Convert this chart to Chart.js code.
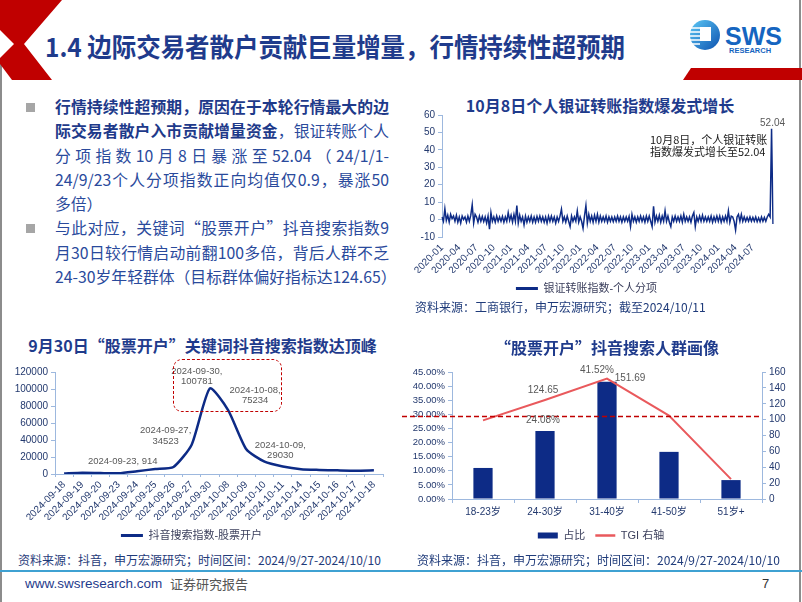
<!DOCTYPE html>
<html lang="zh-CN">
<head>
<meta charset="UTF-8">
<title>1.4 边际交易者散户贡献巨量增量，行情持续性超预期</title>
<script src="https://cdn.jsdelivr.net/npm/chart.js@4.4.1/dist/chart.umd.min.js"></script>
<style>
  html, body { margin: 0; padding: 0; background: #fff; }
  body { width: 802px; height: 602px; position: relative; overflow: hidden; font-family: "Noto Sans CJK SC", sans-serif; }
  .abs { position: absolute; }
  .title { color: #1F3B8C; font-weight: 700; font-size: 16px; white-space: nowrap; line-height: 20px; }
  .source { color: #1F3B7A; font-size: 12px; white-space: nowrap; line-height: 16px; }
  .para { left: 55px; top: 95px; width: 334px; font-size: 15.8px; line-height: 24.3px; color: #2A4A9C; }
  .para div { text-align: justify; text-align-last: justify; }
  .para div.last { text-align: left; text-align-last: left; }
  .para b { color: #1E3A8A; }
  .bullet { width: 9px; height: 9px; background: #A6A6A6; }
</style>
</head>
<body>
<!-- slide frame -->
<div class="abs" style="left:0;top:0;width:2px;height:602px;background:#8c8c8c"></div>
<div class="abs" style="left:799px;top:0;width:2px;height:602px;background:#8c8c8c"></div>

<!-- header -->
<svg class="abs" style="left:0;top:0" width="802" height="82">
  <defs>
    <linearGradient id="logoGrad" x1="0" y1="0" x2="1" y2="1">
      <stop offset="0" stop-color="#5cc8f5"/>
      <stop offset="1" stop-color="#0d52b0"/>
    </linearGradient>
  </defs>
  <polygon points="0,0 62,0 24,44 52,80 12,80 0,64" fill="#C00000"/>
  <polygon points="0,30 14,44 0,58" fill="#fff"/>
  <polygon points="691,68 802,68 802,80 683,80" fill="#C00000"/>
  <circle cx="705" cy="35" r="15" fill="url(#logoGrad)"/>
  <g stroke="#fff" stroke-width="1.5">
    <line x1="690" y1="28" x2="700" y2="28"/>
    <line x1="690" y1="32" x2="700" y2="32"/>
    <line x1="690" y1="36" x2="700" y2="36"/>
    <line x1="690" y1="40" x2="700" y2="40"/>
    <line x1="691" y1="44" x2="700" y2="44"/>
  </g>
  <rect x="700" y="27" width="11" height="14" fill="#fff"/>
  <text x="725" y="45" font-family="Liberation Sans, Arial" font-weight="bold" font-size="25" fill="#1565C0">SWS</text>
  <text x="729" y="53" font-family="Liberation Sans, Arial" font-weight="bold" font-size="7.5" fill="#1565C0">RESEARCH</text>
</svg>
<div class="abs" style="left:45px;top:29px;font-size:26px;line-height:34px;font-weight:700;color:#1F3B8C;white-space:nowrap;transform:scaleX(0.94);transform-origin:left center">1.4 边际交易者散户贡献巨量增量，行情持续性超预期</div>

<!-- text block -->
<div class="abs bullet" style="left:26px;top:103px"></div>
<div class="abs bullet" style="left:26px;top:224px"></div>
<div class="abs para">
  <div><b>行情持续性超预期，原因在于本轮行情最大的边</b></div>
  <div><b>际交易者散户入市贡献增量资金</b>，银证转账个人</div>
  <div>分项指数10月8日暴涨至52.04（24/1/1-</div>
  <div>24/9/23个人分项指数正向均值仅0.9，暴涨50</div>
  <div class="last">多倍）</div>
  <div>与此对应，关键词“股票开户”抖音搜索指数9</div>
  <div>月30日较行情启动前翻100多倍，背后人群不乏</div>
  <div style="width:341px">24-30岁年轻群体（目标群体偏好指标达124.65）</div>
</div>

<!-- top right chart -->
<div class="abs title" style="left:400px;width:400px;top:95px;text-align:center">10月8日个人银证转账指数爆发式增长</div>
<div class="abs" style="left:400px;top:100px;width:400px;height:204px"><canvas id="transferChart"></canvas></div>
<div class="abs" style="left:650px;top:133px;font-size:11px;line-height:12px;color:#1a1a1a;white-space:nowrap">10月8日，个人银证转账<br>指数爆发式增长至52.04</div>
<div class="abs source" style="left:415px;top:299px">资料来源：工商银行，申万宏源研究；截至2024/10/11</div>

<!-- bottom left chart -->
<div class="abs title" style="left:0;width:405px;top:335px;text-align:center">9月30日“股票开户”关键词抖音搜索指数达顶峰</div>
<div class="abs" style="left:0;top:350px;width:400px;height:201px"><canvas id="douyinChart"></canvas></div>
<div class="abs" style="left:173px;top:359px;width:109px;height:53px;box-sizing:border-box;border:1.8px dashed #C00000;border-radius:9px"></div>
<div class="abs source" style="left:18px;top:552px">资料来源：抖音，申万宏源研究；时间区间：2024/9/27-2024/10/10</div>

<!-- bottom right chart -->
<div class="abs title" style="left:400px;width:414px;top:337px;text-align:center">“股票开户”抖音搜索人群画像</div>
<div class="abs" style="left:400px;top:350px;width:402px;height:201px"><canvas id="portraitChart"></canvas></div>
<div class="abs source" style="left:417px;top:552px">资料来源：抖音，申万宏源研究；时间区间：2024/9/27-2024/10/10</div>

<!-- footer -->
<div class="abs" style="left:0;top:570px;width:802px;height:2px;background:#3FA1D2"></div>
<div class="abs" style="left:25px;top:576px;font-family:'Liberation Sans',Arial;font-size:13.5px;line-height:16px;color:#1F3B8C">www.swsresearch.com</div>
<div class="abs" style="left:170px;top:576px;font-size:13px;line-height:16px;color:#555">证券研究报告</div>
<div class="abs" style="left:762px;top:576px;font-family:'Liberation Sans',Arial;font-size:13px;line-height:16px;color:#333">7</div>

<script>
// ---- data: 银证转账指数-个人分项 (weekly readings per month) ----
const transferMonths = [
  '2020-01','2020-02','2020-03','2020-04','2020-05','2020-06','2020-07','2020-08','2020-09','2020-10','2020-11','2020-12',
  '2021-01','2021-02','2021-03','2021-04','2021-05','2021-06','2021-07','2021-08','2021-09','2021-10','2021-11','2021-12',
  '2022-01','2022-02','2022-03','2022-04','2022-05','2022-06','2022-07','2022-08','2022-09','2022-10','2022-11','2022-12',
  '2023-01','2023-02','2023-03','2023-04','2023-05','2023-06','2023-07','2023-08','2023-09','2023-10','2023-11','2023-12',
  '2024-01','2024-02','2024-03','2024-04','2024-05','2024-06','2024-07','2024-08','2024-09','2024-10'
];
const transferValues = [
  [1.5, -1, 6.2, -0.5], [2.5, -1.5, 3, 0.5], [2, -1, 2.5, -1.5], [1.5, -2, 2, 0],
  [1.5, -1.5, 2, -1], [2.5, 8.5, -2, 3], [1.5, -1.5, 2, -1], [1.8, -1.2, 1.5, -2],
  [2, -5.5, 4, -1], [1.5, -1.5, 2, -1], [1.5, -1, 1.8, -1.5], [1.5, -1, 4, -0.5],
  [2.5, -1.5, 3, -1], [8, -2, 2.5, -1], [1.5, -3, 2, -1.5], [1.5, -1, 2, -1.5],
  [1.5, -1.5, 1.8, -1], [2, -1, 1.5, -1.5], [1.5, -2, 2, -1], [2, -1, 1.5, -2],
  [1.5, -1, 2, 6], [-1, 1.5, -1.5, 2], [-1, -4, 2, -1], [1.5, -1, 5, -1.5],
  [1.5, -1, -5, 2], [8, -2, 3, -1], [2, -1.5, 2.5, -1], [3, -1.5, 2, -1],
  [1.5, -1, 2, -1.5], [1.5, -1, 1.5, -1.2], [1.5, -1, 2, -1], [1.5, -1.5, 1.5, -1],
  [1.5, -1, 1.8, -4], [3, -1, 1.5, -1.5], [1.5, -1, 2, -1], [1.5, -1.5, 2, -1],
  [2, -1, -4, 7.6], [-1.5, 2, -1, 2.5], [-1.5, 2, -1, 5], [-1, 2, -1.5, -4],
  [1.5, -1, 2, -1], [1.5, -1, 2, -1.5], [3, -1, 1.5, -1], [1.5, -1.5, 2, 4],
  [-4, 1.5, -1, 2], [-1, 2.5, -1, 1.5], [-1, 1.5, -1, 2], [-1.5, 1.5, -1, 2],
  [-1, 2, -1.5, 1.5], [-1, 2, -1, 5], [-1.5, 2, 1.5, -1], [-6, 1.5, 3, -1],
  [3, -1, 1.5, -1], [1.2, -1, 1.5, -1], [1.2, -1, 1.5, -1.2], [1, -1.2, 1.5, -1],
  [1.2, -1, 1.5, 3], [1.5, 52.04, -2.5]
];
const transferTicks = [
  '2020-01','2020-04','2020-07','2020-10','2021-01','2021-04','2021-07','2021-10',
  '2022-01','2022-04','2022-07','2022-10','2023-01','2023-04','2023-07','2023-10',
  '2024-01','2024-04','2024-07'
];

// ---- data: 抖音搜索指数-股票开户 ----
const douyinDates = [
  '2024-09-18','2024-09-19','2024-09-20','2024-09-23','2024-09-24','2024-09-25','2024-09-26','2024-09-27','2024-09-30',
  '2024-10-08','2024-10-09','2024-10-10','2024-10-11','2024-10-14','2024-10-15','2024-10-16','2024-10-17','2024-10-18'
];
const douyinValues = [600, 1500, 1100, 914, 3300, 5800, 8200, 34523, 100781, 75234, 29030, 14500, 8800, 5600, 4800, 4300, 3900, 4300];

// ---- data: 人群画像 ----
const ageGroups = ['18-23岁', '24-30岁', '31-40岁', '41-50岁', '51岁+'];
const shareValues = [11.0, 24.08, 41.52, 16.7, 6.7];
const tgiValues = [99, 124.65, 151.69, 105, 25];
const tgiReference = 104;

const NAVY = '#0D2B86';
const RED = '#E9595C';
const AXIS = '#9DB8DE';
const TICK = '#23396E';
const LEGEND_TEXT = '#3B3F5C';

Chart.defaults.font.family = '"Liberation Sans", Arial, "Noto Sans CJK SC", sans-serif';
Chart.defaults.color = TICK;
Chart.defaults.animation = false;

// draws value labels next to chosen points
function labelPlugin(items, fontSize, lineHeight) {
  return {
    id: 'valueLabels',
    afterDatasetsDraw(chart) {
      const ctx = chart.ctx;
      ctx.save();
      ctx.font = fontSize + 'px "Liberation Sans", Arial';
      ctx.fillStyle = '#595959';
      ctx.textAlign = 'center';
      ctx.textBaseline = 'middle';
      items.forEach(it => {
        const el = chart.getDatasetMeta(it.dataset).data[it.index];
        it.text.forEach((t, k) => ctx.fillText(t, el.x + it.dx, el.y + it.dy + k * lineHeight));
      });
      ctx.restore();
    }
  };
}

// legend entries in dataset order, with a style per dataset
function legendStyles(styles) {
  return chart => Chart.defaults.plugins.legend.labels.generateLabels(chart)
    .sort((a, b) => a.datasetIndex - b.datasetIndex)
    .map(it => Object.assign(it, styles[it.datasetIndex]));
}

const plainNumber = v => String(v);

// ---------- chart 1 ----------
const transferLabels = [];
const transferData = [];
transferValues.forEach((weeks, m) => weeks.forEach(v => {
  transferLabels.push(transferMonths[m]);
  transferData.push(v);
}));
const peakIndex = transferData.indexOf(Math.max(...transferData));

new Chart(document.getElementById('transferChart'), {
  type: 'line',
  data: {
    labels: transferLabels,
    datasets: [{
      label: '银证转账指数-个人分项',
      data: transferData,
      borderColor: NAVY,
      backgroundColor: NAVY,
      borderWidth: 1.5,
      pointRadius: 0,
      tension: 0
    }]
  },
  options: {
    responsive: true,
    maintainAspectRatio: false,
    layout: { padding: { top: 15, right: 27, left: 0, bottom: 0 } },
    scales: {
      x: {
        grid: { display: false, drawTicks: false },
        border: { display: false },
        ticks: {
          autoSkip: false, maxRotation: 45, minRotation: 45, padding: 5,
          font: { size: 10 }, color: TICK,
          callback(value, index) {
            const lab = transferLabels[index];
            const first = index === 0 || transferLabels[index - 1] !== lab;
            return first && transferTicks.includes(lab) ? lab : null;
          }
        },
        afterFit(s) { s.height = 36; }
      },
      y: {
        min: -10, max: 60,
        ticks: { stepSize: 10, font: { size: 10 }, color: TICK, padding: 3, callback: plainNumber },
        grid: { drawOnChartArea: false, tickLength: 4, color: AXIS },
        border: { color: AXIS },
        afterFit(s) { s.width = 42; }
      }
    },
    plugins: {
      tooltip: { enabled: false },
      legend: {
        position: 'bottom',
        labels: {
          usePointStyle: true, pointStyleWidth: 22, padding: 10,
          font: { size: 11 }, color: LEGEND_TEXT,
          generateLabels: legendStyles([{ pointStyle: 'line', lineWidth: 3, strokeStyle: NAVY }])
        }
      }
    }
  },
  plugins: [labelPlugin([
    { dataset: 0, index: peakIndex, text: [transferData[peakIndex].toFixed(2)], dx: 1, dy: -6 }
  ], 10, 10)]
});

// ---------- chart 2 ----------
const d = i => [douyinDates[i] + ',', String(douyinValues[i])];
new Chart(document.getElementById('douyinChart'), {
  type: 'line',
  data: {
    labels: douyinDates,
    datasets: [{
      label: '抖音搜索指数-股票开户',
      data: douyinValues,
      borderColor: NAVY,
      backgroundColor: NAVY,
      borderWidth: 2.5,
      pointRadius: 0,
      tension: 0.2
    }]
  },
  options: {
    responsive: true,
    maintainAspectRatio: false,
    layout: { padding: { top: 22, right: 17, left: 0, bottom: 0 } },
    scales: {
      x: {
        offset: true,
        grid: { drawOnChartArea: false, offset: true, tickLength: 3, color: AXIS },
        border: { color: AXIS },
        ticks: { autoSkip: false, maxRotation: 45, minRotation: 45, padding: 2, font: { size: 10 }, color: TICK },
        afterFit(s) { s.height = 46; }
      },
      y: {
        min: 0, max: 120000,
        ticks: { stepSize: 20000, font: { size: 10 }, color: TICK, padding: 3, callback: plainNumber },
        grid: { drawOnChartArea: false, tickLength: 4, color: AXIS },
        border: { color: AXIS },
        afterFit(s) { s.width = 55; }
      }
    },
    plugins: {
      tooltip: { enabled: false },
      legend: {
        position: 'bottom',
        labels: {
          usePointStyle: true, pointStyleWidth: 22, padding: 10,
          font: { size: 11 }, color: LEGEND_TEXT,
          generateLabels: legendStyles([{ pointStyle: 'line', lineWidth: 3, strokeStyle: NAVY }])
        }
      }
    }
  },
  plugins: [labelPlugin([
    { dataset: 0, index: 3, text: [douyinDates[3] + ', ' + douyinValues[3]], dx: 4, dy: -12 },
    { dataset: 0, index: 7, text: d(7), dx: -26, dy: -14 },
    { dataset: 0, index: 8, text: d(8), dx: -13, dy: -17 },
    { dataset: 0, index: 9, text: d(9), dx: 27, dy: -20 },
    { dataset: 0, index: 10, text: d(10), dx: 34, dy: -4 }
  ], 9.5, 10.5)]
});

// ---------- chart 3 ----------
const refLinePlugin = {
  id: 'refLine',
  afterDatasetsDraw(chart) {
    const ctx = chart.ctx;
    const y = chart.scales.y1.getPixelForValue(tgiReference);
    ctx.save();
    ctx.strokeStyle = '#C00000';
    ctx.lineWidth = 1.5;
    ctx.setLineDash([5, 3]);
    ctx.beginPath();
    ctx.moveTo(2, y);
    ctx.lineTo(chart.chartArea.right, y);
    ctx.stroke();
    ctx.restore();
  }
};

new Chart(document.getElementById('portraitChart'), {
  type: 'bar',
  data: {
    labels: ageGroups,
    datasets: [
      {
        type: 'bar',
        label: '占比',
        data: shareValues,
        backgroundColor: NAVY,
        barPercentage: 0.31,
        categoryPercentage: 1,
        yAxisID: 'y',
        order: 2
      },
      {
        type: 'line',
        label: 'TGI 右轴',
        data: tgiValues,
        borderColor: RED,
        backgroundColor: RED,
        borderWidth: 2,
        pointRadius: 0,
        tension: 0,
        yAxisID: 'y1',
        order: 1
      }
    ]
  },
  options: {
    responsive: true,
    maintainAspectRatio: false,
    layout: { padding: { top: 22, right: 0, left: 0, bottom: 0 } },
    scales: {
      x: {
        grid: { drawOnChartArea: false, offset: true, tickLength: 4, color: AXIS },
        border: { color: AXIS },
        ticks: { font: { size: 10 }, color: TICK, padding: 3 },
        afterFit(s) { s.height = 21; }
      },
      y: {
        position: 'left',
        min: 0, max: 45,
        ticks: { stepSize: 5, autoSkip: false, font: { size: 9.5 }, color: TICK, padding: 3, callback: v => v.toFixed(2) + '%' },
        grid: { drawOnChartArea: false, tickLength: 4, color: AXIS },
        border: { color: AXIS },
        afterFit(s) { s.width = 52; }
      },
      y1: {
        position: 'right',
        min: 0, max: 160,
        ticks: { stepSize: 20, autoSkip: false, font: { size: 10 }, color: TICK, padding: 3 },
        grid: { drawOnChartArea: false, tickLength: 4, color: AXIS },
        border: { color: AXIS },
        afterFit(s) { s.width = 40; }
      }
    },
    plugins: {
      tooltip: { enabled: false },
      legend: {
        position: 'bottom',
        labels: {
          usePointStyle: true, pointStyleWidth: 20, boxHeight: 6, padding: 10,
          font: { size: 11 }, color: LEGEND_TEXT,
          generateLabels: legendStyles([
            { pointStyle: 'rect', lineWidth: 0, fillStyle: NAVY },
            { pointStyle: 'line', lineWidth: 2.5, strokeStyle: RED }
          ])
        }
      }
    }
  },
  plugins: [refLinePlugin, labelPlugin([
    { dataset: 0, index: 1, text: [shareValues[1].toFixed(2) + '%'], dx: -2, dy: -11 },
    { dataset: 0, index: 2, text: [shareValues[2].toFixed(2) + '%'], dx: -10, dy: -11.5 },
    { dataset: 1, index: 1, text: [tgiValues[1].toFixed(2)], dx: -2, dy: -9.5 },
    { dataset: 1, index: 2, text: [tgiValues[2].toFixed(2)], dx: 23, dy: 0 }
  ], 10, 10)]
});
</script>
</body>
</html>
